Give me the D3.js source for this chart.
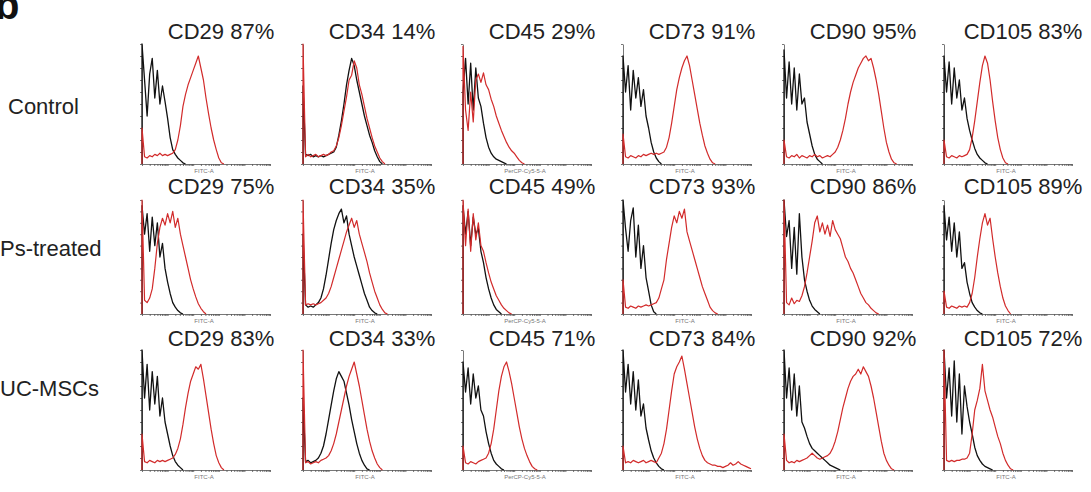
<!DOCTYPE html>
<html><head><meta charset="utf-8">
<script src="https://cdn.jsdelivr.net/npm/d3@7"></script>
<style>body{margin:0;background:#fff;}svg{display:block;font-family:"Liberation Sans",Arial,sans-serif;}</style>
</head><body>
<svg id="c" width="1091" height="492"></svg>
<script>
// ---- data ----
const markers = ["CD29","CD34","CD45","CD73","CD90","CD105"];
const groups = ["Control","Ps-treated","UC-MSCs"];
const pctControl = [87,14,29,91,95,83];
const pctPs = [75,35,49,93,86,89];
const pctUC = [83,33,71,84,92,72];
const axisLabels = ["FITC-A","FITC-A","PerCP-Cy5-5-A","FITC-A","FITC-A","FITC-A"];

// histogram counts (% of panel max) per channel bin, isotype (black) and marker (red)
const blackControl = [
 [100,70,40,75,88,55,78,50,65,52,38,22,12,8,5,3,1,0],
 [65,8,7,8,6,7,6,7,6,7,8,9,10,14,24,36,50,66,78,88,82,70,60,50,40,32,24,18,11,6,2,0],
 [60,88,50,84,45,80,55,48,34,22,14,9,6,4,3,2,1,0],
 [90,60,82,45,78,55,72,48,62,40,30,18,10,5,2,0],
 [95,55,85,50,80,45,75,50,55,35,25,15,8,4,2,0],
 [90,60,85,50,80,55,70,45,55,38,28,20,13,8,5,3,1,0]
];
const redControl = [
 [30,6,5,7,6,8,7,9,7,8,7,8,9,12,20,32,48,58,66,72,78,84,90,80,70,55,42,30,20,12,5,1,0],
 [100,6,8,6,7,8,6,7,8,7,8,10,11,15,22,32,44,56,70,74,86,80,66,58,48,38,30,22,15,10,5,2,0],
 [98,45,28,60,35,70,75,68,76,66,62,54,48,40,34,28,23,18,14,11,9,6,3,1,0],
 [25,6,5,7,6,5,7,6,8,7,8,9,8,9,8,9,10,14,22,34,48,62,72,80,86,90,82,70,58,46,34,24,15,9,4,1,0],
 [20,6,5,7,6,8,5,7,6,5,7,6,8,6,7,5,6,7,6,8,10,14,20,28,38,50,60,68,74,80,84,88,90,86,88,80,70,58,44,30,18,10,4,1,0],
 [20,6,5,7,6,5,7,6,7,8,12,22,36,52,68,82,90,84,70,52,36,22,12,5,1,0]
];
const blackPs = [
 [95,70,88,55,85,60,80,50,62,40,28,18,10,6,3,1,0],
 [70,8,6,7,6,8,10,14,22,34,48,62,74,82,88,92,80,86,70,60,50,42,34,26,18,12,6,3,1,0],
 [95,70,90,60,85,70,75,55,45,32,22,14,8,4,2,0],
 [100,75,55,82,93,50,78,40,60,32,20,8,2,0],
 [100,68,82,40,76,35,88,50,30,20,12,7,4,2,0],
 [95,65,85,55,80,50,72,40,45,28,18,10,6,3,1,0]
];
const redPs = [
 [100,12,10,14,22,40,62,76,84,78,88,80,90,76,84,70,60,50,40,30,22,15,9,5,2,0],
 [100,8,9,8,9,8,9,10,12,14,18,24,32,40,48,56,64,72,78,84,76,82,70,62,54,46,36,28,20,14,8,4,1,0],
 [100,60,92,55,88,65,80,60,55,45,36,28,22,16,12,8,5,3,1,0],
 [30,6,5,7,6,5,7,6,7,8,7,8,9,10,14,22,30,48,62,76,86,80,90,84,92,72,64,56,48,40,32,24,18,12,6,3,1,0],
 [100,10,8,14,9,12,11,16,24,36,50,64,80,86,72,80,70,78,68,82,74,70,66,58,50,46,40,36,30,24,18,14,10,8,5,3,1,0],
 [20,6,5,7,6,5,7,6,7,6,10,18,32,50,66,80,88,78,84,66,50,36,24,14,7,3,0]
];
const blackUC = [
 [100,60,88,50,82,55,78,45,60,40,30,20,12,7,4,2,0],
 [60,7,8,6,7,8,10,14,20,30,42,54,66,76,82,78,74,64,54,42,32,22,14,8,4,1,0],
 [90,65,85,55,80,60,70,50,45,32,22,14,8,5,3,1,0],
 [100,65,88,55,82,50,75,45,55,35,25,16,10,6,3,1,0],
 [100,60,85,50,80,45,70,40,35,28,22,18,16,14,12,10,8,6,4,3,2,1,0],
 [100,60,85,45,91,40,80,30,70,53,40,30,19,12,8,5,3,2,1,0]
];
const redUC = [
 [30,7,6,8,7,6,8,7,8,7,8,9,10,13,18,26,38,52,64,74,80,86,84,88,76,62,48,34,22,12,6,2,0],
 [100,6,7,5,6,7,6,8,9,10,12,16,22,30,40,50,60,70,78,84,90,80,70,58,46,34,24,16,10,5,2,0],
 [20,6,5,7,6,5,7,8,9,10,14,22,34,50,66,78,86,90,82,72,60,48,36,26,18,12,7,3,1,0],
 [20,6,7,6,8,7,6,7,8,6,7,8,7,6,10,14,22,34,50,66,80,86,90,95,84,72,60,48,36,26,18,12,8,6,5,4,4,3,3,2,3,4,6,4,5,7,5,4,3,2,1],
 [30,8,6,7,6,8,7,8,9,10,12,14,12,10,9,10,11,12,14,18,24,32,42,52,60,68,74,78,80,84,80,86,82,78,70,60,48,36,24,14,8,4,1,0],
 [100,8,7,8,7,8,8,9,9,10,14,30,50,58,68,88,66,58,50,44,36,28,22,14,8,4,1,0]
];

const pcts = [pctControl, pctPs, pctUC];
const blacks = [blackControl, blackPs, blackUC];
const reds = [redControl, redPs, redUC];

// ---- layout ----
const colLeft = [142,303,463,623,784,944];
const panelW = 128;
const rowTop = [44,200,350];
const rowBottom = [164,314,470];
const titleY = [39,194,346];
const labelY = [114,256,396];
const NBINS = 50;

const svg = d3.select("#c");

// panel letter (cropped at the top edge in the original figure)
svg.append("text").attr("x",-5).attr("y",19).attr("font-size",40).attr("font-weight","bold")
  .attr("fill","#111").text("b");

groups.forEach((g,r)=>{
  svg.append("text").attr("x", r===0?8:0).attr("y",labelY[r]).attr("font-size",22)
    .attr("fill","#222").text(g);
});

const lineGen = (x,y)=>d3.line().x(d=>x(d[0])).y(d=>y(d[1]));

for(let r=0;r<3;r++){
  for(let c=0;c<6;c++){
    const L = colLeft[c];
    const x = d3.scaleLinear().domain([0,NBINS]).range([L, L+panelW]);
    const y = d3.scaleLinear().domain([0,100]).range([rowBottom[r], rowTop[r]]);
    const xl = d3.scaleLog().domain([10,1e6]).range([L, L+panelW]);
    const gp = svg.append("g");

    gp.append("text").attr("x", L+79).attr("y", titleY[r]).attr("text-anchor","middle")
      .attr("font-size",22).attr("fill","#222").text(markers[c]+" "+pcts[r][c]+"%");

    const ax = gp.append("g").attr("transform",`translate(0,${rowBottom[r]})`)
      .call(d3.axisBottom(xl).tickSizeInner(2).tickSizeOuter(0).tickFormat(""));
    ax.selectAll("path,line").attr("stroke","#555").attr("stroke-width",0.8);
    const ay = gp.append("g").attr("transform",`translate(${L},0)`)
      .call(d3.axisLeft(y).ticks(10).tickSizeInner(2).tickSizeOuter(0).tickFormat(""));
    ay.selectAll("path,line").attr("stroke","#555").attr("stroke-width",0.8);

    gp.append("text").attr("x", L+62).attr("y", rowBottom[r]+9).attr("text-anchor","middle")
      .attr("font-size",6).attr("fill","#777").text(axisLabels[c]);

    const bk = [[0,0]].concat(blacks[r][c].map((v,i)=>[i,v]));
    const rd = [[0,0]].concat(reds[r][c].map((v,i)=>[i,v]));
    gp.append("path").attr("d", lineGen(x,y)(bk)).attr("fill","none")
      .attr("stroke","#111").attr("stroke-width",1.3).attr("stroke-linejoin","round");
    gp.append("path").attr("d", lineGen(x,y)(rd)).attr("fill","none")
      .attr("stroke","#d22b2b").attr("stroke-width",1.2).attr("stroke-linejoin","round");
  }
}
</script>
</body></html>
